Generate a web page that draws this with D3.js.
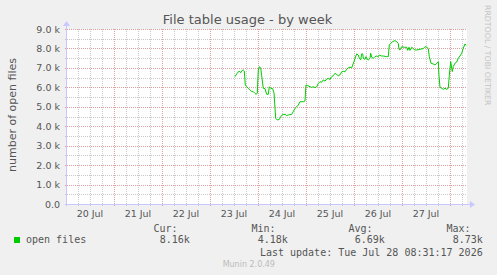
<!DOCTYPE html>
<html>
<head>
<meta charset="utf-8">
<script src="https://cdn.jsdelivr.net/npm/d3@7"></script>
<style>
  body { margin: 0; background: #f0f0f0; }
  svg { display: block; }
  text { font-family: "DejaVu Sans", sans-serif; fill: #555; }
  .mono { font-family: "DejaVu Sans Mono", monospace; }
</style>
</head>
<body>
<svg id="chart"></svg>
<script>
// time of each sample (2026) and number of open files
let times = [
  "07-23 12:31", "07-23 13:22", "07-23 14:40", "07-23 15:22", "07-23 16:01", "07-23 16:40",
  "07-23 17:10", "07-23 17:40", "07-23 18:22", "07-23 19:10", "07-23 20:01", "07-23 20:52",
  "07-23 21:40", "07-23 22:31", "07-23 23:01", "07-23 23:40", "07-24 00:10", "07-24 00:40",
  "07-24 01:22", "07-24 01:52", "07-24 02:40", "07-24 03:31", "07-24 04:22", "07-24 05:10",
  "07-24 05:40", "07-24 06:22", "07-24 07:22", "07-24 08:01", "07-24 08:52", "07-24 09:40",
  "07-24 10:40", "07-24 11:22", "07-24 12:22", "07-24 13:31", "07-24 14:22", "07-24 15:10",
  "07-24 16:52", "07-24 17:40", "07-24 18:31", "07-24 19:22", "07-24 20:10", "07-24 21:01",
  "07-24 22:40", "07-24 23:31", "07-25 00:01", "07-25 00:52", "07-25 02:01", "07-25 02:52",
  "07-25 03:40", "07-25 04:31", "07-25 05:22", "07-25 06:10", "07-25 07:01", "07-25 07:52",
  "07-25 08:40", "07-25 09:31", "07-25 10:22", "07-25 11:10", "07-25 12:01", "07-25 12:52",
  "07-25 13:40", "07-25 14:31", "07-25 15:22", "07-25 16:10", "07-25 17:01", "07-25 17:52",
  "07-25 18:40", "07-25 19:31", "07-25 20:22", "07-25 21:10", "07-25 22:01", "07-25 22:52",
  "07-25 23:22", "07-26 00:01", "07-26 00:31", "07-26 01:22", "07-26 02:10", "07-26 02:40",
  "07-26 03:22", "07-26 03:52", "07-26 04:22", "07-26 04:40", "07-26 05:31", "07-26 06:01",
  "07-26 06:40", "07-26 07:10", "07-26 08:01", "07-26 08:22", "07-26 08:52", "07-26 09:40",
  "07-26 10:31", "07-26 11:22", "07-26 12:10", "07-26 12:40", "07-26 13:52", "07-26 14:40",
  "07-26 16:22", "07-26 17:10", "07-26 17:40", "07-26 18:22", "07-26 19:22", "07-26 20:31",
  "07-26 21:22", "07-26 22:10", "07-26 22:31", "07-26 23:01", "07-26 23:52", "07-27 01:10",
  "07-27 02:22", "07-27 02:52", "07-27 03:31", "07-27 04:01", "07-27 04:52", "07-27 05:40",
  "07-27 06:31", "07-27 07:22", "07-27 09:01", "07-27 10:40", "07-27 11:31", "07-27 12:22",
  "07-27 13:10", "07-27 13:40", "07-27 14:31", "07-27 15:40", "07-27 16:31", "07-27 17:22",
  "07-27 18:10", "07-27 18:31", "07-27 19:01", "07-27 19:52", "07-27 20:40", "07-27 21:31",
  "07-27 22:22", "07-27 23:10", "07-27 23:40", "07-28 00:22", "07-28 01:10", "07-28 01:40",
  "07-28 02:31", "07-28 03:22", "07-28 04:10", "07-28 05:01", "07-28 05:52", "07-28 06:40",
  "07-28 07:31", "07-28 08:01"
];
let openFiles = [
  6550, 6690, 6840, 6750, 6860, 6890,
  6840, 6120, 6040, 5950, 5870, 5780,
  5780, 5690, 5640, 5690, 6890, 7060,
  7000, 6600, 5950, 5930, 5640, 5640,
  6030, 5950, 5930, 5720, 4410, 4320,
  4350, 4490, 4610, 4610, 4550, 4580,
  4610, 4750, 4920, 5000, 5090, 5260,
  5260, 5300, 6120, 6090, 6030, 6000,
  6030, 5990, 6030, 6200, 6290, 6260,
  6380, 6320, 6430, 6460, 6410, 6550,
  6600, 6720, 6660, 6600, 6640, 6800,
  6820, 6800, 6930, 7000, 7040, 7000,
  7150, 7320, 7490, 7720, 7660, 7500,
  7410, 7720, 7720, 7490, 7440, 7580,
  7440, 7410, 7490, 7750, 7550, 7490,
  7580, 7610, 7580, 7660, 7610, 7610,
  7580, 7580, 8180, 8260, 8350, 8400,
  8350, 8260, 7960, 7920, 8090, 8060,
  8060, 7900, 8060, 7900, 8060, 7990,
  7920, 7920, 7960, 7990, 8090, 8060,
  7990, 7580, 7240, 7200, 7150, 7240,
  7320, 6600, 6000, 5950, 5900, 5950,
  5900, 5950, 6600, 7320, 6810, 7070,
  7240, 7300, 7490, 7610, 7750, 8010,
  8230, 8160
];
let yTicks = [0, 1000, 2000, 3000, 4000, 5000, 6000, 7000, 8000, 9000];
let legendHeads = ["Cur:", "Min:", "Avg:", "Max:"];
let legendValues = ["8.16k", "4.18k", "6.69k", "8.73k"];

let width = 497, height = 275;
let plotLeft = 67, plotRight = 467, plotTop = 29, plotBottom = 204;

let parseTime = d3.timeParse("%Y-%m-%d %H:%M:%S");
let sampleTime = d3.timeParse("%Y-%m-%d %H:%M");
let data = times.map((t, i) => ({ t: sampleTime("2026-" + t), v: openFiles[i] }));

let endTime = parseTime("2026-07-28 08:31:17");
let startTime = new Date(endTime.getTime() - 720000 * 1000);

let svg = d3.select("#chart").attr("width", width).attr("height", height);

let x = d3.scaleTime().domain([startTime, endTime]).range([plotLeft, plotRight]);
let y = d3.scaleLinear().domain([0, 9000]).range([plotBottom, plotTop]);

let px = v => Math.round(v) + 0.5;

// plot background
svg.append("rect")
  .attr("x", plotLeft).attr("y", plotTop)
  .attr("width", plotRight - plotLeft).attr("height", plotBottom - plotTop)
  .attr("fill", "#fff");

// minor grid
let minorX = d3.timeHour.every(6).range(startTime, endTime).filter(d => d.getHours() !== 0);
let minorY = d3.range(500, 9000, 1000);

svg.append("g").selectAll("line").data(minorX).enter().append("line")
  .attr("x1", d => px(x(d))).attr("x2", d => px(x(d)))
  .attr("y1", plotTop).attr("y2", plotBottom + 2)
  .attr("stroke", "#c8c8c8").attr("stroke-dasharray", "1,1");

svg.append("g").selectAll("line").data(minorY).enter().append("line")
  .attr("x1", plotLeft - 2).attr("x2", plotRight)
  .attr("y1", d => px(y(d))).attr("y2", d => px(y(d)))
  .attr("stroke", "#c8c8c8").attr("stroke-dasharray", "1,1");

// major grid
let majorX = d3.timeDay.range(startTime, endTime);

svg.append("g").selectAll("line").data(majorX).enter().append("line")
  .attr("x1", d => px(x(d))).attr("x2", d => px(x(d)))
  .attr("y1", plotTop).attr("y2", plotBottom + 2)
  .attr("stroke", "#e0a0a0").attr("stroke-dasharray", "1,1");

svg.append("g").selectAll("line").data(yTicks.slice(1)).enter().append("line")
  .attr("x1", plotLeft - 2).attr("x2", plotRight)
  .attr("y1", d => px(y(d))).attr("y2", d => px(y(d)))
  .attr("stroke", "#e0a0a0").attr("stroke-dasharray", "1,1");

// axes with arrows
svg.append("line")
  .attr("x1", plotLeft - 2).attr("x2", plotRight + 4)
  .attr("y1", px(plotBottom)).attr("y2", px(plotBottom))
  .attr("stroke", "#c8c8ff");
svg.append("path")
  .attr("d", `M${plotRight + 3},${plotBottom - 3} L${plotRight + 8},${px(plotBottom)} L${plotRight + 3},${plotBottom + 4} Z`)
  .attr("fill", "#c8c8ff");
svg.append("line")
  .attr("x1", px(plotLeft - 1)).attr("x2", px(plotLeft - 1))
  .attr("y1", plotBottom + 2).attr("y2", plotTop - 4)
  .attr("stroke", "#c8c8ff");
svg.append("path")
  .attr("d", `M${plotLeft - 4},${plotTop - 3} L${px(plotLeft - 1)},${plotTop - 8} L${plotLeft + 3},${plotTop - 3} Z`)
  .attr("fill", "#c8c8ff");

// y labels
svg.append("g").selectAll("text").data(yTicks).enter().append("text")
  .attr("x", 60).attr("y", d => y(d) + 3.5)
  .attr("text-anchor", "end")
  .attr("font-size", 9.5)
  .text(d => d === 0 ? "0.0" : d3.format(".1f")(d / 1000) + " k");

// x labels at noon
let noons = d3.timeDay.range(startTime, endTime).map(d => d3.timeHour.offset(d, 12));
noons.unshift(d3.timeHour.offset(d3.timeDay.floor(startTime), 12));
svg.append("g").selectAll("text").data(noons.filter(d => d < endTime)).enter().append("text")
  .attr("x", d => x(d)).attr("y", 216.5)
  .attr("text-anchor", "middle")
  .attr("font-size", 9.5)
  .text(d3.timeFormat("%-d %b"));

// the line
let line = d3.line().x(d => x(d.t)).y(d => y(d.v));
svg.append("path")
  .datum(data)
  .attr("d", line)
  .attr("fill", "none")
  .attr("stroke", "#00cc00")
  .attr("stroke-width", 1);

// title and labels
svg.append("text")
  .attr("x", 247.5).attr("y", 24)
  .attr("text-anchor", "middle")
  .attr("font-size", 13)
  .text("File table usage - by week");

svg.append("text")
  .attr("transform", "translate(15.5,115) rotate(-90)")
  .attr("text-anchor", "middle")
  .attr("font-size", 11)
  .text("number of open files");

svg.append("text")
  .attr("transform", "translate(485,5) rotate(90)")
  .attr("font-size", 7.8)
  .style("fill", "#c4c4c4")
  .text("RRDTOOL / TOBI OETIKER");

// legend
svg.append("rect")
  .attr("x", 14).attr("y", 237)
  .attr("width", 6).attr("height", 6)
  .attr("fill", "#00cc00");

svg.append("text").attr("class", "mono")
  .attr("x", 26).attr("y", 243)
  .attr("font-size", 10)
  .text("open files");

let headEnds = [177.5, 275.5, 372.5, 470.5];
svg.append("g").selectAll("text").data(legendHeads).enter().append("text")
  .attr("class", "mono")
  .attr("x", (d, i) => headEnds[i]).attr("y", 231.5)
  .attr("text-anchor", "end")
  .attr("font-size", 10)
  .text(d => d);

svg.append("g").selectAll("text").data(legendValues).enter().append("text")
  .attr("class", "mono")
  .attr("x", (d, i) => headEnds[i] + 12.3).attr("y", 243)
  .attr("text-anchor", "end")
  .attr("font-size", 10)
  .text(d => d);

svg.append("text").attr("class", "mono")
  .attr("x", 482.7).attr("y", 255.5)
  .attr("text-anchor", "end")
  .attr("font-size", 10)
  .text("Last update: Tue Jul 28 08:31:17 2026");

svg.append("text")
  .attr("x", 248.8).attr("y", 266.5)
  .attr("text-anchor", "middle")
  .attr("font-size", 8)
  .style("fill", "#bbb")
  .text("Munin 2.0.49");
</script>
</body>
</html>
